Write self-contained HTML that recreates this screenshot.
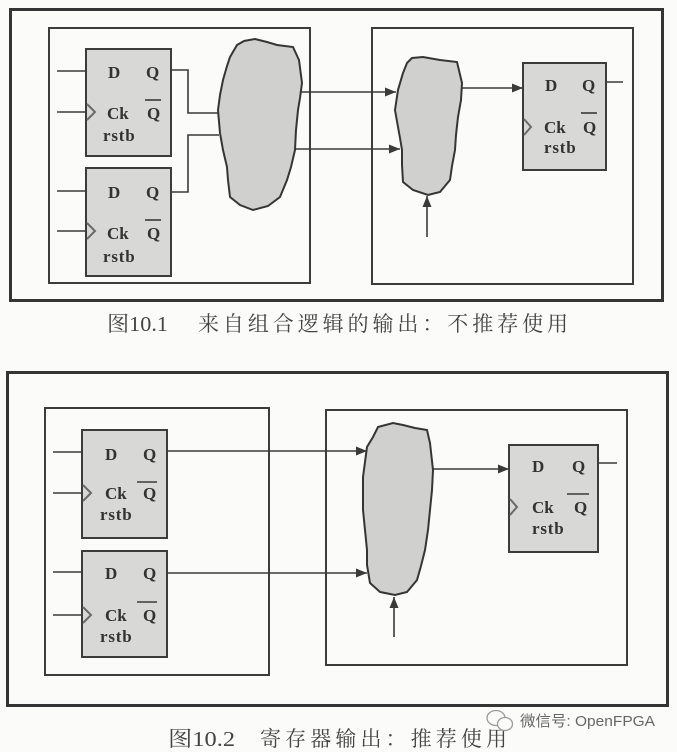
<!DOCTYPE html>
<html><head><meta charset="utf-8"><style>
html,body{margin:0;padding:0;background:#fbfbfa;}
svg{display:block;}
.ff{fill:#d8d8d6;stroke:#3c3c3c;stroke-width:2;}
.t{font-family:"Liberation Serif",serif;font-weight:bold;font-size:17px;fill:#333;}
.ln{stroke:#3a3a3a;stroke-width:1.6;fill:none;}
.blob{fill:#d0d0ce;stroke:#353535;stroke-width:2;}
.ck{fill:none;stroke:#6a6a6a;stroke-width:2;}
.cap{font-family:"Liberation Serif","Noto Serif CJK SC",serif;font-size:21px;fill:#444;}
</style></head><body>
<svg width="677" height="752" viewBox="0 0 677 752" xmlns="http://www.w3.org/2000/svg">
<defs>
<marker id="ah" markerWidth="11" markerHeight="9" refX="11" refY="4.5" orient="auto" markerUnits="userSpaceOnUse">
<path d="M0,0 L11,4.5 L0,9 Z" fill="#3a3a3a"/>
</marker>
</defs>

<!-- ================= FIGURE 1 ================= -->
<rect x="10.5" y="9.5" width="652" height="291" fill="none" stroke="#353535" stroke-width="3"/>
<rect x="49" y="28" width="261" height="255" fill="none" stroke="#3c3c3c" stroke-width="2"/>
<rect x="372" y="28" width="261" height="256" fill="none" stroke="#3c3c3c" stroke-width="2"/>

<!-- FF1 -->
<rect class="ff" x="86" y="49" width="85" height="107"/>
<text class="t" x="108" y="78">D</text>
<text class="t" x="146" y="78">Q</text>
<text class="t" x="107" y="119">Ck</text>
<text class="t" x="147" y="119">Q</text>
<line class="ln" x1="145" y1="100" x2="161" y2="100"/>
<text class="t" x="103" y="141" letter-spacing="0.8">rstb</text>
<line class="ln" x1="57" y1="71" x2="86" y2="71"/>
<line class="ln" x1="57" y1="112" x2="86" y2="112"/>
<path class="ck" d="M87,104 L95,112 L87,120"/>

<!-- FF2 -->
<rect class="ff" x="86" y="168" width="85" height="108"/>
<text class="t" x="108" y="198">D</text>
<text class="t" x="146" y="198">Q</text>
<text class="t" x="107" y="239">Ck</text>
<text class="t" x="147" y="239">Q</text>
<line class="ln" x1="145" y1="220" x2="161" y2="220"/>
<text class="t" x="103" y="262" letter-spacing="0.8">rstb</text>
<line class="ln" x1="57" y1="191" x2="86" y2="191"/>
<line class="ln" x1="57" y1="231" x2="86" y2="231"/>
<path class="ck" d="M87,223 L95,231 L87,239"/>

<!-- Q wires to blob1 -->
<path class="ln" d="M171,70 H188 V113 H219"/>
<path class="ln" d="M171,192 H188 V135 H219"/>

<!-- blob1 -->
<path class="blob" d="M237,45 L244,41 L255,39 L267,42 L277,45 L293,47 L299,60 L302,83 L300,98 L298,110 L296,130 L295,150 L291,167 L287,180 L280,197 L268,206 L253,210 L240,205 L230,197 L228,180 L227,167 L223,150 L220,133 L218,110 L220,95 L223,80 L227,66 L230,57 Z"/>

<!-- wires blob1 -> blob2 -->
<line class="ln" x1="300" y1="92" x2="396" y2="92" marker-end="url(#ah)"/>
<line class="ln" x1="296" y1="149" x2="400" y2="149" marker-end="url(#ah)"/>

<!-- blob2 -->
<path class="blob" d="M407,63 L412,58 L423,57 L440,60 L457,62 L462,83 L461,100 L458,117 L456,135 L455,150 L452,166 L450,180 L440,192 L428,195 L413,190 L403,182 L402,165 L402,150 L400,138 L398,127 L395,110 L398,90 L403,73 Z"/>
<line class="ln" x1="427" y1="237" x2="427" y2="196" marker-end="url(#ah)"/>
<line class="ln" x1="462" y1="88" x2="523" y2="88" marker-end="url(#ah)"/>

<!-- FF3 -->
<rect class="ff" x="523" y="63" width="83" height="107"/>
<text class="t" x="545" y="91">D</text>
<text class="t" x="582" y="91">Q</text>
<text class="t" x="544" y="133">Ck</text>
<text class="t" x="583" y="133">Q</text>
<line class="ln" x1="581" y1="113" x2="597" y2="113"/>
<text class="t" x="544" y="153" letter-spacing="0.8">rstb</text>
<path class="ck" d="M524,119 L531,127 L524,135"/>
<line class="ln" x1="606" y1="82" x2="623" y2="82"/>

<text class="cap" x="107" y="331" textLength="61" lengthAdjust="spacingAndGlyphs">图10.1</text>
<text class="cap" x="198" y="331" textLength="370" lengthAdjust="spacing">来自组合逻辑的输出：不推荐使用</text>

<!-- ================= FIGURE 2 ================= -->
<rect x="7.5" y="372.5" width="660" height="333" fill="none" stroke="#353535" stroke-width="3"/>
<rect x="45" y="408" width="224" height="267" fill="none" stroke="#3c3c3c" stroke-width="2"/>
<rect x="326" y="410" width="301" height="255" fill="none" stroke="#3c3c3c" stroke-width="2"/>

<!-- FF1 -->
<rect class="ff" x="82" y="430" width="85" height="108"/>
<text class="t" x="105" y="460">D</text>
<text class="t" x="143" y="460">Q</text>
<text class="t" x="105" y="499">Ck</text>
<text class="t" x="143" y="499">Q</text>
<line class="ln" x1="137" y1="482" x2="157" y2="482"/>
<text class="t" x="100" y="520" letter-spacing="0.8">rstb</text>
<line class="ln" x1="53" y1="452" x2="82" y2="452"/>
<line class="ln" x1="53" y1="493" x2="82" y2="493"/>
<path class="ck" d="M83,485 L91,493 L83,501"/>

<!-- FF2 -->
<rect class="ff" x="82" y="551" width="85" height="106"/>
<text class="t" x="105" y="579">D</text>
<text class="t" x="143" y="579">Q</text>
<text class="t" x="105" y="621">Ck</text>
<text class="t" x="143" y="621">Q</text>
<line class="ln" x1="137" y1="602" x2="157" y2="602"/>
<text class="t" x="100" y="642" letter-spacing="0.8">rstb</text>
<line class="ln" x1="53" y1="572" x2="82" y2="572"/>
<line class="ln" x1="53" y1="615" x2="82" y2="615"/>
<path class="ck" d="M83,607 L91,615 L83,623"/>

<line class="ln" x1="167" y1="451" x2="367" y2="451" marker-end="url(#ah)"/>
<line class="ln" x1="167" y1="573" x2="367" y2="573" marker-end="url(#ah)"/>

<!-- blob fig2 -->
<path class="blob" d="M373,437 L378,427 L393,423 L403,425 L415,428 L427,430 L430,443 L433,470 L432,490 L430,510 L428,530 L425,550 L421,566 L417,580 L407,592 L395,595 L380,592 L370,583 L367,565 L367,550 L365,530 L363,510 L363,477 L367,447 Z"/>
<line class="ln" x1="394" y1="637" x2="394" y2="597" marker-end="url(#ah)"/>
<line class="ln" x1="433" y1="469" x2="509" y2="469" marker-end="url(#ah)"/>

<!-- FF3 fig2 -->
<rect class="ff" x="509" y="445" width="89" height="107"/>
<text class="t" x="532" y="472">D</text>
<text class="t" x="572" y="472">Q</text>
<text class="t" x="532" y="513">Ck</text>
<text class="t" x="574" y="513">Q</text>
<line class="ln" x1="567" y1="494" x2="589" y2="494"/>
<text class="t" x="532" y="534" letter-spacing="0.8">rstb</text>
<path class="ck" d="M510,499 L517,507 L510,515"/>
<line class="ln" x1="598" y1="463" x2="617" y2="463"/>

<text class="cap" x="168" y="746" textLength="67" lengthAdjust="spacingAndGlyphs">图10.2</text>
<text class="cap" x="260" y="746" textLength="247" lengthAdjust="spacing">寄存器输出：推荐使用</text>

<!-- watermark -->
<g fill="none" stroke="#9a9a9a" stroke-width="1.3">
<ellipse cx="496" cy="718" rx="9" ry="7.5"/>
<ellipse cx="505" cy="724" rx="7.5" ry="6.5" fill="#fbfbfa"/>
</g>
<text x="520" y="726" font-family="'Liberation Sans','Noto Sans CJK SC',sans-serif" font-size="15" fill="#666" textLength="135" lengthAdjust="spacingAndGlyphs">微信号: OpenFPGA</text>
</svg>
</body></html>
